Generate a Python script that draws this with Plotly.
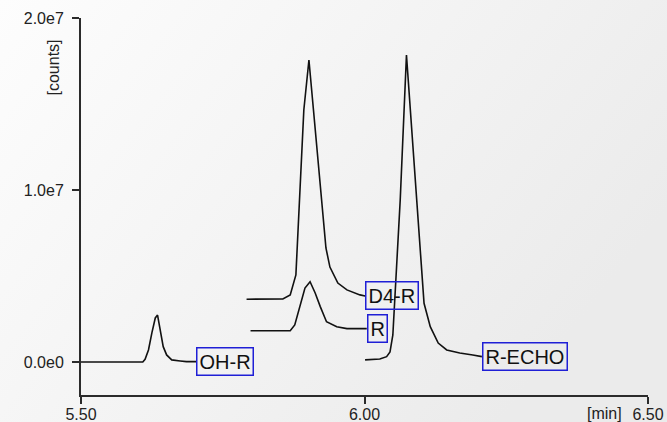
import base64
import plotly.graph_objects as go

# ---- data (time in min, intensity in counts) ----
oh_r_x = [5.500, 5.609, 5.613, 5.619, 5.625, 5.631, 5.635, 5.639, 5.645, 5.651, 5.660, 5.675, 5.686, 5.703]
oh_r_y = [0.0, 0.0, 0.16e6, 0.70e6, 1.69e6, 2.56e6, 2.73e6, 2.05e6, 0.89e6, 0.41e6, 0.12e6, 0.06e6, 0.02e6, 0.02e6]

d4_x = [5.792, 5.856, 5.869, 5.879, 5.893, 5.902, 5.910, 5.932, 5.939, 5.953, 5.969, 5.992, 6.001]
d4_y = [3.65e6, 3.66e6, 3.90e6, 5.06e6, 14.65e6, 17.56e6, 14.65e6, 6.63e6, 5.52e6, 4.59e6, 4.19e6, 3.90e6, 3.84e6]

r_x = [5.799, 5.869, 5.877, 5.886, 5.895, 5.904, 5.913, 5.922, 5.933, 5.951, 5.969, 6.004]
r_y = [1.82e6, 1.82e6, 2.15e6, 3.22e6, 4.30e6, 4.67e6, 4.01e6, 3.22e6, 2.34e6, 2.05e6, 1.94e6, 1.94e6]

echo_x = [6.001, 6.027, 6.039, 6.045, 6.050, 6.063, 6.074, 6.089, 6.105, 6.116, 6.130, 6.145, 6.168, 6.191, 6.207]
echo_y = [0.12e6, 0.17e6, 0.31e6, 0.58e6, 1.57e6, 9.42e6, 17.85e6, 10.92e6, 3.41e6, 2.05e6, 1.10e6, 0.70e6, 0.52e6, 0.41e6, 0.31e6]

series_names = ["OH-R", "D4-R", "R", "R-ECHO"]
series_x = [oh_r_x, d4_x, r_x, echo_x]
series_y = [oh_r_y, d4_y, r_y, echo_y]

x_tickvals = [5.5, 6.0, 6.5]
x_ticktext = ["5.50", "6.00", "6.50"]
y_tickvals = [0, 1.0e7, 2.0e7]
y_ticktext = ["0.0e0", "1.0e7", "2.0e7"]

# ---- figure ----
W, H = 667, 422
ML, MR, MT, MB = 81, 19, 18, 27
PW, PH = W - ML - MR, H - MT - MB

FONT = "Liberation Sans, Arial, sans-serif"
AX = "#2b2b2b"

fig = go.Figure()
for name, xs, ys in zip(series_names, series_x, series_y):
    fig.add_trace(go.Scatter(x=xs, y=ys, mode="lines", name=name,
                             line=dict(color="#111111", width=1.6), showlegend=False,
                             hoverinfo="x+y"))
    fig.add_annotation(x=xs[-1], y=ys[-1], text=name, showarrow=False,
                       xanchor="left", yanchor="middle",
                       font=dict(family=FONT, size=20, color="#111111"),
                       bordercolor="#1f1fd6", borderwidth=1.5, borderpad=2,
                       bgcolor="rgba(255,255,255,0)")

fig.add_annotation(xref="paper", yref="paper", x=(53 - ML) / PW, y=(H - MB - 67.5) / PH,
                   text="[counts]", textangle=-90, showarrow=False,
                   xanchor="center", yanchor="middle",
                   font=dict(family=FONT, size=16, color="#222222"))
fig.add_annotation(xref="paper", yref="paper", x=(604 - ML) / PW, y=(H - MB - 413) / PH,
                   text="[min]", showarrow=False, xanchor="center", yanchor="middle",
                   font=dict(family=FONT, size=16, color="#222222"))

svg = ('<svg xmlns="http://www.w3.org/2000/svg" width="667" height="422" preserveAspectRatio="none">'
       '<defs><linearGradient id="g" x1="0" y1="0" x2="1" y2="0.5">'
       '<stop offset="0" stop-color="#fdfdfd"/><stop offset="1" stop-color="#ebebeb"/>'
       '</linearGradient></defs><rect width="667" height="422" fill="url(#g)"/></svg>')
src = "data:image/svg+xml;base64," + base64.b64encode(svg.encode()).decode()
fig.add_layout_image(source=src, xref="paper", yref="paper",
                     x=-ML / PW, y=1 + MT / PH, sizex=W / PW, sizey=H / PH,
                     xanchor="left", yanchor="top", sizing="stretch", layer="below")

fig.update_layout(
    width=W, height=H,
    margin=dict(l=ML, r=MR, t=MT, b=MB, autoexpand=False),
    paper_bgcolor="#f5f5f5", plot_bgcolor="rgba(0,0,0,0)",
    font=dict(family=FONT, size=16, color="#222222"),
    xaxis=dict(range=[5.5, 6.5], tickvals=x_tickvals, ticktext=x_ticktext, automargin=False,
               showgrid=False, zeroline=False, showline=True, linecolor=AX, linewidth=2,
               ticks="outside", ticklen=7, tickwidth=2, tickcolor=AX, ticklabelstandoff=-3,
               tickfont=dict(family=FONT, size=16, color="#222222")),
    yaxis=dict(range=[-1.92e6, 2.0e7], tickvals=y_tickvals, ticktext=y_ticktext, automargin=False,
               showgrid=False, zeroline=False, showline=True, linecolor=AX, linewidth=2,
               ticks="outside", ticklen=7, tickwidth=2, tickcolor=AX, ticklabelstandoff=5,
               tickfont=dict(family=FONT, size=16, color="#222222")),
)

fig.write_html("out.html", config={"displayModeBar": False},
               post_script="document.body.style.margin='0';document.body.style.overflow='hidden';")
